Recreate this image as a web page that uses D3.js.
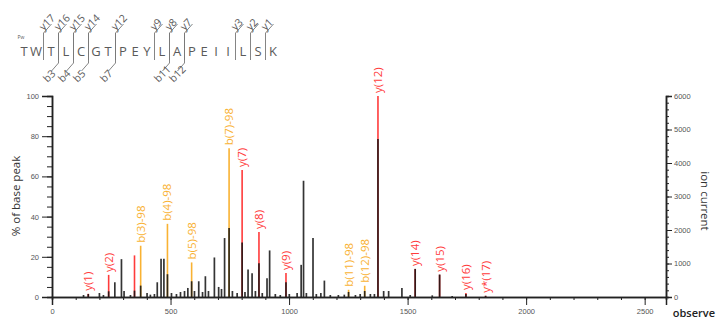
<!DOCTYPE html>
<html>
<head>
<meta charset="utf-8">
<script src="https://cdn.jsdelivr.net/npm/d3@7"></script>
<style>
  body { margin: 0; background: #fff; }
  svg { display: block; font-family: "Open Sans", sans-serif; }
</style>
</head>
<body>
<svg width="716" height="321"></svg>
<script>
// peptide + fragment coverage
const peptide = "TWTLCGTPEYLAPEIILSK".split("");
const yIons = [17, 16, 15, 14, 12, 9, 8, 7, 3, 2, 1];
const bIons = [3, 4, 5, 7, 11, 12];

// black peaks: m/z and ion current
const peakMz = [133, 153, 200, 217, 239, 265, 293, 304, 331, 348, 374, 401, 415, 432, 444, 460, 472, 487,
  504, 525, 542, 559, 573, 589, 601, 619, 635, 647, 660, 685, 703, 715, 728, 747, 761, 781, 802, 814,
  827, 844, 858, 873, 887, 907, 918, 942, 963, 987, 1001, 1034, 1051, 1061, 1073, 1101, 1115, 1134,
  1149, 1174, 1208, 1233, 1251, 1280, 1300, 1319, 1343, 1360, 1375, 1399, 1420, 1476, 1511, 1532,
  1604, 1635, 1688, 1746, 1829];
const peakCurrent = [60, 90, 120, 60, 170, 440, 1130, 180, 60, 190, 340, 120, 70, 90, 440, 1140, 1140, 680,
  120, 90, 150, 180, 270, 470, 180, 470, 150, 620, 180, 1180, 300, 240, 1760, 2060, 180, 120, 1630, 150,
  820, 710, 180, 1010, 120, 560, 1390, 90, 60, 440, 90, 120, 960, 3470, 120, 1760, 90, 120,
  490, 60, 60, 70, 150, 60, 90, 180, 90, 90, 4720, 180, 180, 270, 60, 840,
  50, 670, 30, 90, 36];

// annotated fragment ions (% of base peak)
const annLabels = ["y(1)", "y(2)", "", "b(3)-98", "b(4)-98", "b(5)-98", "b(7)-98", "y(7)", "y(8)", "y(9)",
  "b(11)-98", "b(12)-98", "y(12)", "y(14)", "y(15)", "y(16)", "y*(17)"];
const annMz = [153, 239, 348, 374, 487, 589, 747, 802, 873, 987, 1251, 1319, 1375, 1532, 1635, 1746, 1829];
const annPct = [1.6, 11, 20.7, 25.5, 36.4, 17.2, 74, 63.2, 32.3, 11.9, 3.6, 5.6, 100, 13.9, 11.1, 2, 0.6];
const annType = ["y", "y", "y", "b", "b", "b", "b", "y", "y", "y", "b", "b", "y", "y", "y", "y", "y"];

const xTicks = [0, 500, 1000, 1500, 2000, 2500];
const pctTicks = [0, 20, 40, 60, 80, 100];
const currentTicks = [0, 1000, 2000, 3000, 4000, 5000, 6000];

const colors = { y: "#ff3b3b", b: "#f9b233" };

const svg = d3.select("svg");
const plotL = 52, plotR = 666, plotT = 96, plotB = 297;

const x = d3.scaleLinear().domain([0, 2590]).range([plotL, plotR]);
const yPct = d3.scaleLinear().domain([0, 100]).range([plotB, plotT]);
const yCur = d3.scaleLinear().domain([0, 6000]).range([plotB, plotT]);

// annotation lines (behind the peaks)
const ann = annMz.map((m, i) => ({ mz: m, pct: annPct[i], label: annLabels[i], type: annType[i] }));
svg.append("g").selectAll("line").data(ann).enter().append("line")
  .attr("x1", d => x(d.mz)).attr("x2", d => x(d.mz))
  .attr("y1", yPct(0)).attr("y2", d => yPct(d.pct))
  .attr("stroke", d => colors[d.type]).attr("stroke-width", 1.6);

// measured peaks
const peaks = peakMz.map((m, i) => ({ mz: m, v: peakCurrent[i] }));
svg.append("g").selectAll("line").data(peaks).enter().append("line")
  .attr("x1", d => x(d.mz)).attr("x2", d => x(d.mz))
  .attr("y1", yCur(0)).attr("y2", d => yCur(d.v))
  .attr("stroke", "#111").attr("stroke-opacity", 0.85).attr("stroke-width", 1.7);

// labels of annotated ions
svg.append("g").selectAll("text").data(ann.filter(d => d.label)).enter().append("text")
  .attr("transform", d => `translate(${x(d.mz)},${yPct(d.pct) - 3}) rotate(-90)`)
  .attr("dy", "0.35em")
  .attr("fill", d => colors[d.type])
  .style("font-size", "11.5px")
  .text(d => d.label);

// axes
function styleAxis(g, labels) {
  g.select(".domain").attr("stroke", "#222").attr("stroke-width", 1.5);
  g.selectAll(".tick line").attr("stroke", "#222").attr("stroke-width", 1);
  g.selectAll(".tick text").attr("fill", "#555").style("font-size", "7.5px");
  if (!labels) g.selectAll(".tick text").remove();
}

svg.append("g").attr("transform", `translate(0,${plotB})`)
  .call(d3.axisBottom(x).tickValues(d3.range(0, 2590, 100)).tickSize(3).tickFormat(""))
  .call(g => styleAxis(g, false));
svg.append("g").attr("transform", `translate(0,${plotB})`)
  .call(d3.axisBottom(x).tickValues(xTicks).tickSize(8).tickPadding(4).tickFormat(d3.format("d")))
  .call(g => styleAxis(g, true));

svg.append("g").attr("transform", `translate(${plotL},0)`)
  .call(d3.axisLeft(yPct).tickValues(d3.range(0, 101, 5)).tickSize(5).tickFormat(""))
  .call(g => styleAxis(g, false));
svg.append("g").attr("transform", `translate(${plotL},0)`)
  .call(d3.axisLeft(yPct).tickValues(pctTicks).tickSize(10).tickPadding(3))
  .call(g => styleAxis(g, true));

svg.append("g").attr("transform", `translate(${plotR},0)`)
  .call(d3.axisRight(yCur).tickValues(d3.range(0, 6001, 200)).tickSize(3).tickFormat(""))
  .call(g => styleAxis(g, false));
svg.append("g").attr("transform", `translate(${plotR},0)`)
  .call(d3.axisRight(yCur).tickValues(currentTicks).tickSize(6).tickPadding(2).tickFormat(d3.format("d")))
  .call(g => styleAxis(g, true));

// axis titles
svg.append("text").attr("transform", "translate(20,196) rotate(-90)")
  .attr("text-anchor", "middle").attr("fill", "#333").style("font-size", "11.5px")
  .text("% of base peak");
svg.append("text").attr("transform", "translate(701,201) rotate(90)")
  .attr("text-anchor", "middle").attr("fill", "#333").style("font-size", "11.5px")
  .text("ion current");
svg.append("text").attr("x", 715).attr("y", 317).attr("text-anchor", "end")
  .attr("fill", "#222").style("font-size", "11px").style("font-weight", "600")
  .text("observe");

// peptide sequence header
const hasY = new Set(yIons.map(n => peptide.length - n));
const hasB = new Set(bIons);
const resX = [];
peptide.forEach((aa, i) => {
  if (i === 0) resX.push(24);
  else resX.push(resX[i - 1] + 12 + (hasY.has(i) || hasB.has(i) ? 3 : 0));
});
const seq = svg.append("g").attr("fill", "#5a5a5a").attr("stroke", "#777");
seq.selectAll("text.aa").data(peptide).enter().append("text")
  .attr("class", "aa").attr("x", (d, i) => resX[i]).attr("y", 56)
  .attr("text-anchor", "middle").attr("stroke", "none")
  .style("font-size", "13px").text(d => d);
seq.append("text").attr("x", 21).attr("y", 39).attr("text-anchor", "middle")
  .attr("stroke", "none").style("font-size", "5px").text("Pw");

const bx = k => (resX[k - 1] + resX[k]) / 2;
yIons.forEach(n => {
  const k = peptide.length - n, xb = bx(k);
  seq.append("path").attr("fill", "none").attr("stroke-width", 0.9)
    .attr("d", `M${xb},60V33L${xb + 8},24`);
  seq.append("text").attr("stroke", "none").style("font-size", "10.5px")
    .attr("transform", `translate(${xb},31) rotate(-45)`).text("y" + n);
});
bIons.forEach(n => {
  const xb = bx(n);
  seq.append("path").attr("fill", "none").attr("stroke-width", 0.9)
    .attr("d", `M${xb},33V63L${xb - 7},71`);
  seq.append("text").attr("stroke", "none").style("font-size", "10.5px")
    .attr("transform", `translate(${xb - 11},83) rotate(-45)`).text("b" + n);
});
</script>
</body>
</html>
